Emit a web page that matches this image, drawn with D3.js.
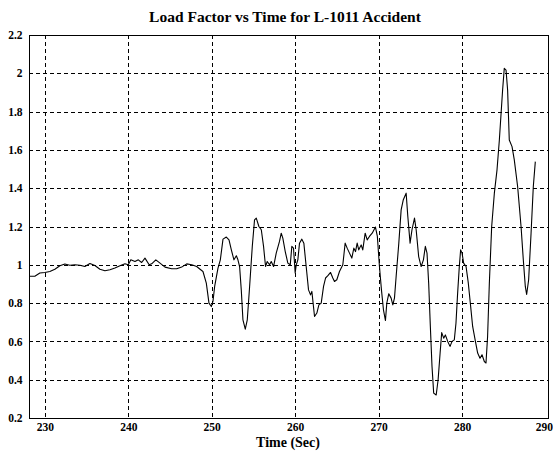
<!DOCTYPE html>
<html>
<head>
<meta charset="utf-8">
<script src="https://cdn.jsdelivr.net/npm/d3@7"></script>
<style>
  html, body { margin: 0; padding: 0; background: #fff; }
  svg { display: block; }
  text { font-family: "Liberation Serif", "Times New Roman", serif; font-weight: bold; fill: #000; }
</style>
</head>
<body>
<svg id="chart" width="553" height="452"></svg>
<script>
// ---- data ----
const title = "Load Factor vs Time for L-1011 Accident";
const xLabel = "Time (Sec)";
const xTicks = [230, 240, 250, 260, 270, 280, 290];
const yTicks = [0.2, 0.4, 0.6, 0.8, 1, 1.2, 1.4, 1.6, 1.8, 2, 2.2];
const timeSec = [
  228.1, 228.8, 229.4, 230.0, 230.6, 231.2, 231.8, 232.4, 233.0, 233.6,
  234.2, 234.8, 235.4, 236.0, 236.6, 237.2, 237.8, 238.4, 239.0, 239.6,
  240.0, 240.3, 240.8, 241.2, 241.6, 242.0, 242.5, 242.8, 243.3, 243.8,
  244.4, 245.2, 245.8, 246.4, 247.0, 247.6, 248.2, 248.6, 248.95, 249.35,
  249.67, 249.95, 250.15, 250.35, 250.75, 251.03, 251.35, 251.75, 252.07, 252.35,
  252.66, 252.95, 253.14, 253.34, 253.54, 253.74, 254.02, 254.26, 254.54, 254.86,
  255.13, 255.34, 255.65, 255.94, 256.21, 256.45, 256.65, 256.93, 257.13, 257.41,
  257.73, 258.12, 258.33, 258.52, 258.81, 259.12, 259.41, 259.6, 259.8, 260.0,
  260.13, 260.32, 260.52, 260.8, 261.04, 261.32, 261.6, 261.84, 262.0, 262.32,
  262.6, 262.84, 263.12, 263.4, 263.64, 263.92, 264.24, 264.51, 264.71, 264.99,
  265.31, 265.71, 265.99, 266.23, 266.51, 266.79, 267.03, 267.23, 267.43, 267.62,
  267.91, 268.1, 268.39, 268.63, 268.9, 269.23, 269.45, 269.62, 269.85, 270.1,
  270.34, 270.58, 270.82, 270.98, 271.22, 271.5, 271.7, 271.9, 272.1, 272.42,
  272.7, 272.96, 273.3, 273.5, 273.77, 274.0, 274.3, 274.5, 274.8, 275.1,
  275.37, 275.6, 275.8, 276.0, 276.2, 276.4, 276.6, 276.9, 277.13, 277.37,
  277.56, 277.8, 278.0, 278.28, 278.56, 278.8, 279.07, 279.27, 279.47, 279.67,
  279.83, 280.0, 280.19, 280.48, 280.75, 280.99, 281.27, 281.6, 281.87, 282.15,
  282.39, 282.67, 282.87, 283.06, 283.27, 283.55, 283.87, 284.19, 284.47, 284.86,
  285.06, 285.27, 285.46, 285.66, 285.99, 286.26, 286.66, 287.07, 287.34, 287.58,
  287.74, 287.98, 288.27, 288.54, 288.78
];
const loadFactor = [
  0.94, 0.94, 0.957, 0.96, 0.965, 0.977, 0.995, 1.004, 0.998, 1.0,
  0.998, 0.991, 1.007, 0.996, 0.977, 0.969, 0.974, 0.983, 0.995, 1.005,
  1.0, 1.026, 1.017, 1.026, 1.012, 1.035, 1.0, 1.005, 1.026, 1.009,
  0.988, 0.979, 0.979, 0.988, 1.005, 1.0, 0.991, 0.977, 0.965, 0.904,
  0.80, 0.782, 0.81, 0.887, 0.983, 1.026, 1.134, 1.145, 1.13, 1.078,
  1.026, 1.047, 1.026, 0.991, 0.869, 0.713, 0.664, 0.713, 0.887, 1.096,
  1.235, 1.244, 1.2, 1.183, 1.096, 0.991, 1.017, 1.0, 1.017, 0.991,
  1.061, 1.122, 1.165, 1.139, 1.069, 1.009, 1.0, 1.096, 1.087, 0.957,
  1.0, 1.026, 1.113, 1.134, 1.113, 0.991, 0.869, 0.843, 0.861, 0.73,
  0.748, 0.791, 0.80, 0.887, 0.931, 0.943, 0.96, 0.931, 0.913, 0.922,
  0.965, 1.0, 1.113, 1.087, 1.061, 1.035, 1.087, 1.069, 1.113, 1.078,
  1.104, 1.078, 1.165, 1.13, 1.148, 1.165, 1.183, 1.197, 1.148, 0.991,
  0.869, 0.765, 0.709, 0.80, 0.849, 0.826, 0.791, 0.826, 0.939, 1.113,
  1.287, 1.34, 1.374, 1.252, 1.113, 1.183, 1.244, 1.183, 1.043, 0.991,
  1.026, 1.096, 1.061, 0.904, 0.678, 0.469, 0.33, 0.32, 0.40, 0.539,
  0.646, 0.617, 0.634, 0.60, 0.574, 0.60, 0.608, 0.695, 0.852, 0.991,
  1.078, 1.061, 1.009, 0.991, 0.904, 0.80, 0.678, 0.60, 0.539, 0.512,
  0.53, 0.495, 0.487, 0.626, 0.904, 1.20, 1.374, 1.496, 1.652, 1.913,
  2.026, 2.017, 1.913, 1.652, 1.617, 1.548, 1.409, 1.20, 1.026, 0.887,
  0.845, 0.922, 1.165, 1.409, 1.539
];

// ---- drawing ----
const svg = d3.select("#chart");
const mLeft = 29, mRight = 548, mTop = 35, mBottom = 418;
const x = d3.scaleLinear().domain([228.1, 290.3]).range([mLeft, mRight]);
const y = d3.scaleLinear().domain([0.2, 2.2]).range([mBottom, mTop]);

// grid
const grid = svg.append("g").attr("stroke", "#000").attr("stroke-width", 1)
  .attr("stroke-dasharray", "4,3").attr("shape-rendering", "crispEdges");
grid.selectAll("line.v").data(xTicks.filter(t => x(t) < mRight - 3)).join("line")
  .attr("class", "v")
  .attr("x1", d => Math.round(x(d)) + 0.5).attr("x2", d => Math.round(x(d)) + 0.5)
  .attr("y1", mTop).attr("y2", mBottom);
grid.selectAll("line.h").data(yTicks.filter(v => y(v) > mTop + 3 && y(v) < mBottom - 3)).join("line")
  .attr("class", "h")
  .attr("y1", d => Math.round(y(d)) + 0.5).attr("y2", d => Math.round(y(d)) + 0.5)
  .attr("x1", mLeft).attr("x2", mRight);

// axes
const xAxis = svg.append("g").attr("transform", `translate(0,${mBottom + 0.5})`)
  .call(d3.axisBottom(x).tickValues(xTicks).tickFormat(d3.format("d")).tickSize(0).tickPadding(4));
const yAxis = svg.append("g").attr("transform", `translate(${mLeft + 0.5},0)`)
  .call(d3.axisLeft(y).tickValues(yTicks).tickFormat(d => String(+d.toFixed(1))).tickSize(0).tickPadding(7));
[xAxis, yAxis].forEach(g => {
  g.select(".domain").remove();
  g.selectAll("line").attr("stroke", "#000").attr("shape-rendering", "crispEdges");
  g.selectAll("text").attr("font-family", "'Liberation Serif', 'Times New Roman', serif")
    .attr("font-weight", "bold").attr("font-size", 11.5).attr("fill", "#000");
});
// keep the last x label ("290") inside the picture edge
xAxis.selectAll(".tick").filter(d => d === 290).select("text")
  .attr("text-anchor", "end").attr("x", 553 - x(290) - 0.5);

// frame
svg.append("rect").attr("x", mLeft + 0.5).attr("y", mTop + 0.5)
  .attr("width", mRight - mLeft).attr("height", mBottom - mTop)
  .attr("fill", "none").attr("stroke", "#000").attr("stroke-width", 1)
  .attr("shape-rendering", "crispEdges");

// series
const pts = timeSec.map((t, i) => [t, loadFactor[i]]);
svg.append("path").datum(pts)
  .attr("fill", "none").attr("stroke", "#000").attr("stroke-width", 1.1)
  .attr("stroke-linejoin", "round")
  .attr("d", d3.line().x(d => x(d[0])).y(d => y(d[1])));

// title and x label
svg.append("text").attr("x", 285).attr("y", 22).attr("text-anchor", "middle")
  .attr("font-size", 15.5).text(title);
svg.append("text").attr("x", 288).attr("y", 447).attr("text-anchor", "middle")
  .attr("font-size", 14).text(xLabel);
</script>
</body>
</html>
